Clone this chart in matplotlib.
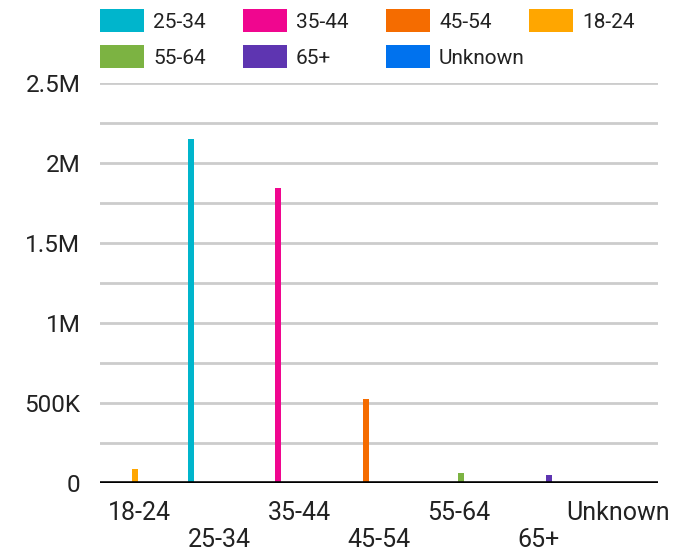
import matplotlib
matplotlib.use("Agg")
import matplotlib.pyplot as plt
from matplotlib.patches import Rectangle
from matplotlib.ticker import MultipleLocator, FuncFormatter
import numpy as np

plt.rcParams["font.family"] = ["Roboto", "DejaVu Sans"]

# Age groups on the x axis
categories = ["18-24", "25-34", "35-44", "45-54", "55-64", "65+", "Unknown"]
# Series in legend / slot order
series = ["25-34", "35-44", "45-54", "18-24", "55-64", "65+", "Unknown"]
series_colors = ["#00B5CC", "#F0068F", "#F56C00", "#FFA600", "#7CB342", "#5E35B1", "#0072EE"]
# Audience size per age group
counts = [85000, 2150000, 1840000, 522000, 60000, 48000, 0]

W, H, DPI = 688, 553, 100
fig = plt.figure(figsize=(W / DPI, H / DPI), dpi=DPI)

left, right, bottom, top = 100, 658, 482.5, 82.5
ax = fig.add_axes([left / W, 1 - bottom / H, (right - left) / W, (bottom - top) / H])

n_cat = len(categories)
slot = 0.0984
bar_w = 0.0753
x = np.arange(n_cat)
for s, (name, color) in enumerate(zip(series, series_colors)):
    vals = [counts[i] if categories[i] == name else 0 for i in range(n_cat)]
    offset = (s - 3) * slot - 0.064
    ax.bar(x + offset, vals, width=bar_w, color=color, linewidth=0, zorder=3)

ax.set_xlim(-0.5, n_cat - 0.5)
ax.set_ylim(0, 2500000)

ax.yaxis.set_major_locator(MultipleLocator(500000))
ax.yaxis.set_minor_locator(MultipleLocator(250000))


def fmt(v, pos):
    if v == 0:
        return "0"
    if v >= 1000000:
        return f"{v / 1000000:g}M"
    return f"{v / 1000:g}K"


ax.yaxis.set_major_formatter(FuncFormatter(fmt))
ax.grid(axis="y", which="both", color="#CCCCCC", linewidth=2, zorder=0)
ax.axhline(0, color="black", linewidth=2.6, zorder=4)

for sp in ax.spines.values():
    sp.set_visible(False)

ax.tick_params(axis="y", which="both", length=0, pad=14, labelsize=17.5, labelcolor="#222222")
ax.tick_params(axis="x", length=0, pad=13, labelsize=18, labelcolor="#222222")
ax.set_xticks(x)
ax.set_xticklabels([c if i % 2 == 0 else "\n" + c for i, c in enumerate(categories)],
                   linespacing=1.2)

# Legend: fixed-width columns, row-major order
sw_w, sw_h = 44, 23
col_x = [100 + 143 * c for c in range(4)]
row_top = [9, 45]
for i, (name, color) in enumerate(zip(series, series_colors)):
    r, c = divmod(i, 4)
    x0, y0 = col_x[c], row_top[r]
    fig.add_artist(Rectangle((x0 / W, 1 - (y0 + sw_h) / H), sw_w / W, sw_h / H,
                             transform=fig.transFigure, facecolor=color, edgecolor="none"))
    fig.text((x0 + sw_w + 9) / W, 1 - (y0 + 19.5) / H, name, fontsize=15,
             color="#222222", va="baseline", ha="left")

fig.savefig("out.png", dpi=DPI)
